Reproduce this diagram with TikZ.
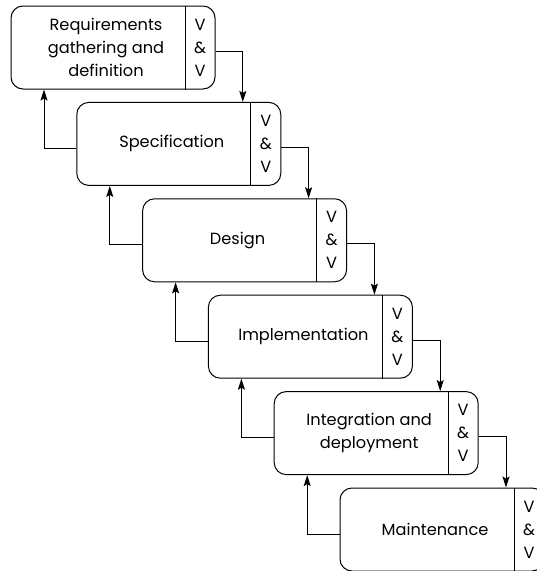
\documentclass[tikz,border=0pt]{standalone}
\usepackage{fontspec}
\setmainfont{Poppins}
\usetikzlibrary{arrows.meta}
\tikzset{
  stage/.style={draw, line width=1pt, rounded corners=12pt, minimum width=204pt, minimum height=83pt, inner sep=0pt},
  label/.style={align=center, font=\fontsize{16.2}{23}\selectfont, inner sep=0pt},
  arr/.style={line width=1pt, -{Stealth[length=11pt,width=7pt,inset=2pt]}},
  divider/.style={line width=1pt}
}
\begin{document}
\begin{tikzpicture}[x=1pt,y=-1pt]
\useasboundingbox (0,0) rectangle (537,571);
% boxes
\node[stage] (b1) at (113,47.5) {};
\node[stage] (b2) at (178.8,143.9) {};
\node[stage] (b3) at (244.6,240.3) {};
\node[stage] (b4) at (310.4,336.7) {};
\node[stage] (b5) at (376.2,433.1) {};
\node[stage] (b6) at (442,529.5) {};
% dividers
\foreach \b in {b1,b2,b3,b4,b5,b6}{
  \draw[divider] ([xshift=72pt]\b.north) -- ([xshift=72pt]\b.south);
}
% texts
\node[label] (t1) at (106,47.5) {Requirements\\gathering and\\definition};
\node[label] (t2) at (171.8,143.9) {Specification};
\node[label] (t3) at (237.6,240.3) {Design};
\node[label] (t4) at (303.4,336.7) {Implementation};
\node[label] (t5) at (369.2,433.1) {Integration and\\deployment};
\node[label] (t6) at (435,529.5) {Maintenance};
\foreach \b/\x/\y in {1/200/47.5,2/265.8/143.9,3/331.6/240.3,4/397.4/336.7,5/463.2/433.1,6/529/529.5}{
  \node[label] (v\b) at (\x,\y) {V\\\&\\V};
}
% forward arrows
\draw[arr] ([yshift=-3.5pt]b1.east) -| ([xshift=64pt]b2.north);
\draw[arr] ([yshift=-3.5pt]b2.east) -| ([xshift=64pt]b3.north);
\draw[arr] ([yshift=-3.5pt]b3.east) -| ([xshift=64pt]b4.north);
\draw[arr] ([yshift=-3.5pt]b4.east) -| ([xshift=64pt]b5.north);
\draw[arr] ([yshift=-3.5pt]b5.east) -| ([xshift=64pt]b6.north);
% feedback arrows
\draw[arr] ([yshift=-4.5pt]b2.west) -| ([xshift=-69pt]b1.south);
\draw[arr] ([yshift=-4.5pt]b3.west) -| ([xshift=-69pt]b2.south);
\draw[arr] ([yshift=-4.5pt]b4.west) -| ([xshift=-69pt]b3.south);
\draw[arr] ([yshift=-4.5pt]b5.west) -| ([xshift=-69pt]b4.south);
\draw[arr] ([yshift=-4.5pt]b6.west) -| ([xshift=-69pt]b5.south);
\end{tikzpicture}
\end{document}
